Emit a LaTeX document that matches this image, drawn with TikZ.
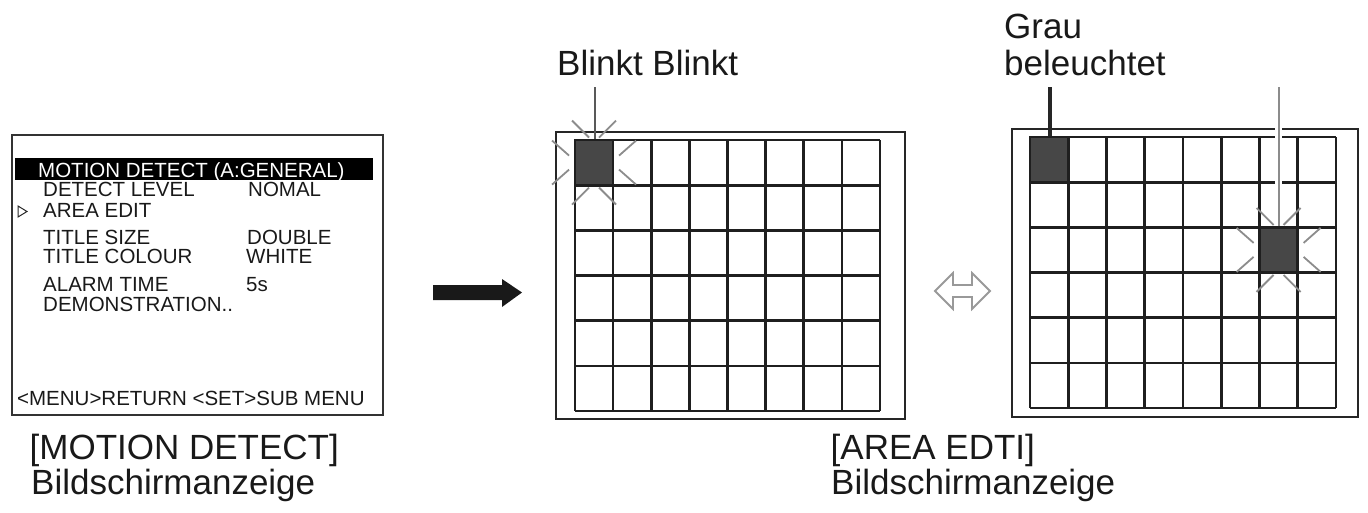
\documentclass[tikz,border=0pt]{standalone}
\usepackage{fontspec}
\setmainfont{Liberation Sans}
\begin{document}
\begin{tikzpicture}[x=1pt,y=-1pt,
  menutxt/.style={anchor=base west, inner sep=0pt, text=black!90, font=\fontsize{20.5}{24}\selectfont},
  bigtxt/.style={anchor=base west, inner sep=0pt, text=black!90, font=\fontsize{35}{40}\selectfont},
  gridline/.style={line width=2.7pt, draw=black!88},
  framebox/.style={line width=2.4pt, draw=black!85},
  darkcell/.style={fill=black!72, draw=black!88, line width=2.7pt, inner sep=0pt},
  ray/.style={draw=black!45, line width=1.8pt},
  leader/.style={draw=black!65, line width=2pt}]
\useasboundingbox (0,0) rectangle (1368,512);

% ---------- menu screen ----------
\draw[line width=2pt, draw=black!80] (12,135) rectangle (383,415);
\fill[black] (15,158) rectangle (373,180);
\node[menutxt, text=white] (hdr) at (38,177) {MOTION DETECT (A:GENERAL)};
\node[menutxt] (m1) at (43,196) {DETECT LEVEL};
\node[menutxt] (v1) at (248,196) {NOMAL};
\draw[line width=1pt, draw=black!85] (18,206) -- (27,211.5) -- (18,217) -- cycle;
\node[menutxt] (m2) at (43,217) {AREA EDIT};
\node[menutxt] (m3) at (43,244) {TITLE SIZE};
\node[menutxt] (v3) at (247,244) {DOUBLE};
\node[menutxt] (m4) at (43,263) {TITLE COLOUR};
\node[menutxt] (v4) at (246,263) {WHITE};
\node[menutxt] (m5) at (43,291) {ALARM TIME};
\node[menutxt] (v5) at (246,291) {5s};
\node[menutxt] (m6) at (43,311) {DEMONSTRATION..};
\node[menutxt] (m7) at (17,405) {<MENU>RETURN <SET>SUB MENU};

\node[bigtxt] (capAa) at (29.5,459) {[MOTION DETECT]};
\node[bigtxt] (capAb) at (31,494) {Bildschirmanzeige};

% ---------- big arrow ----------
\fill[black!90] (433,285) -- (502,285) -- (502,279) -- (522,292.5) -- (502,307) -- (502,300) -- (433,300) -- cycle;

% ---------- grid 1 ----------
\draw[framebox] (556,132) rectangle (905,419);
\foreach \i in {0,...,8} \draw[gridline] ({575+\i*38.125},140) -- ({575+\i*38.125},411);
\foreach \j in {0,...,6} \draw[gridline] (575,{140+\j*45.17}) -- (880,{140+\j*45.17});
\node[darkcell, minimum width=38.1pt, minimum height=45.2pt] (cA) at (594.06,162.58) {};
\begin{scope}[shift={(594.06,162.58)}]
  \foreach \sx in {-1,1} \foreach \sy in {-1,1} {
    \draw[ray] (\sx*22,\sy*42) -- (\sx*5,\sy*25);
    \draw[ray] (\sx*42,\sy*22) -- (\sx*25,\sy*7);
  }
\end{scope}
\node[bigtxt] (blink) at (557,75) {Blinkt Blinkt};
\coordinate (blinkTop) at (595,87);
\draw[leader] (blinkTop) -- (blinkTop |- cA.north);

% ---------- double arrow ----------
\draw[line width=1.8pt, draw=black!40, fill=white, line join=miter]
  (935,291) -- (953,273) -- (953,285) -- (972,285) -- (972,273) -- (990,291)
  -- (972,309) -- (972,297) -- (953,297) -- (953,309) -- cycle;

% ---------- grid 2 ----------
\draw[framebox] (1012,129) rectangle (1358,417);
\foreach \i in {0,...,8} \draw[gridline] ({1030+\i*38.25},137) -- ({1030+\i*38.25},408);
\foreach \j in {0,...,6} \draw[gridline] (1030,{137+\j*45.17}) -- (1336,{137+\j*45.17});
\node[darkcell, minimum width=38.2pt, minimum height=45.2pt] (cB) at (1049.1,159.6) {};
\coordinate (grauTop) at (1050,87);
\draw[draw=black!85, line width=4.5pt] (grauTop) -- (grauTop |- cB.north);
\node[bigtxt] (grau1) at (1004,38) {Grau};
\node[bigtxt] (grau2) at (1004,75) {beleuchtet};

\coordinate (c2Top) at (1278.6,87);
\draw[draw=white, line width=7pt] (c2Top) -- (1278.6,226);
\node[darkcell, minimum width=38.2pt, minimum height=45.2pt] (cC) at (1278.6,249.9) {};
\draw[draw=black!45, line width=2pt] (c2Top) -- (c2Top |- cC.north);
\begin{scope}[shift={(1278.6,249.9)}]
  \foreach \sx in {-1,1} \foreach \sy in {-1,1} {
    \draw[ray] (\sx*22,\sy*42) -- (\sx*5,\sy*25);
    \draw[ray] (\sx*42,\sy*22) -- (\sx*25,\sy*7);
  }
\end{scope}

\node[bigtxt] (capBa) at (830.5,459) {[AREA EDTI]};
\node[bigtxt] (capBb) at (831,494) {Bildschirmanzeige};
\end{tikzpicture}
\end{document}
